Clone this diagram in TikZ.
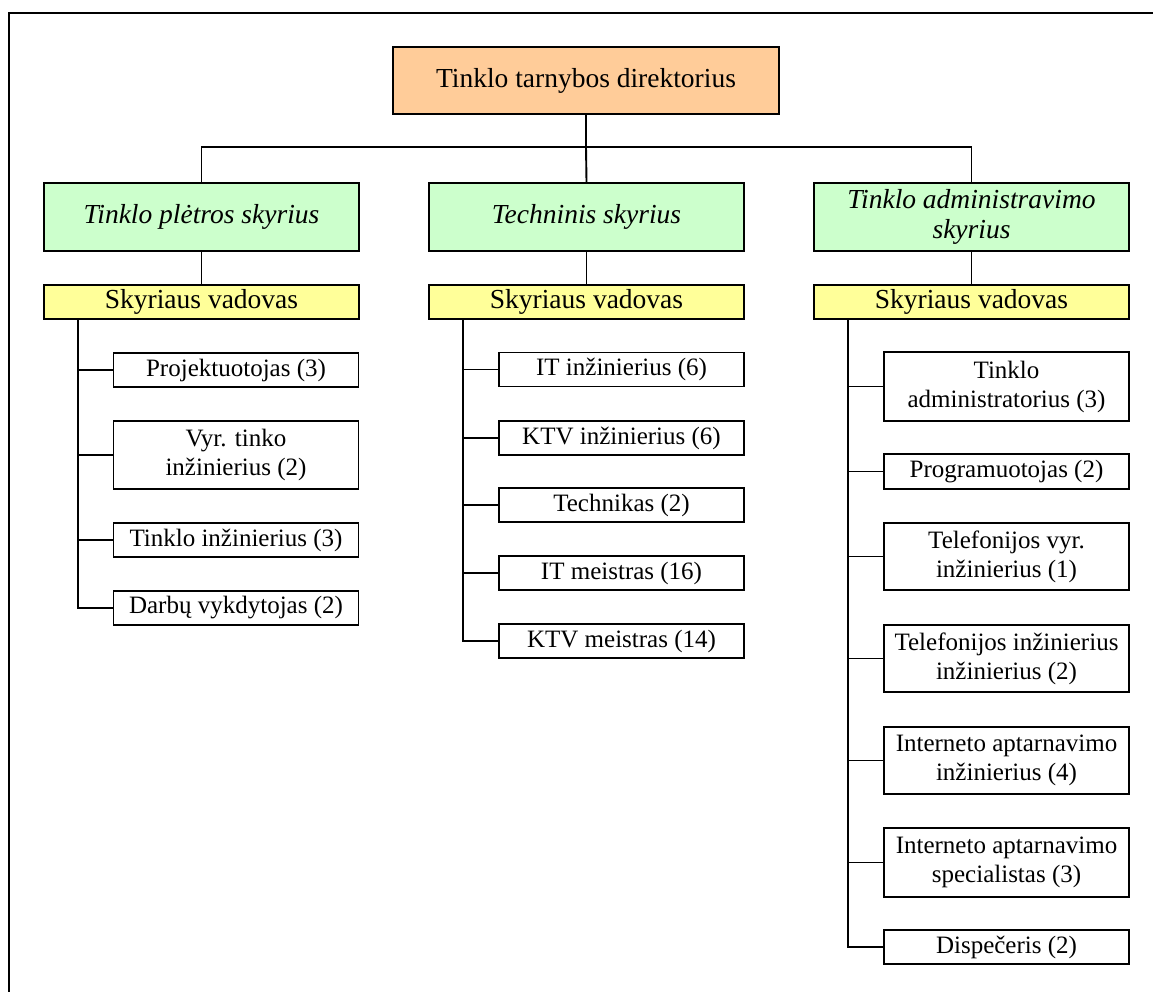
\documentclass[tikz,border=0pt]{standalone}
\usepackage{fontspec}
\setmainfont{Liberation Serif}
\usetikzlibrary{positioning}
\definecolor{dirfill}{HTML}{FFCC99}
\definecolor{deptfill}{HTML}{CCFFCC}
\definecolor{headfill}{HTML}{FFFF99}
\begin{document}
\begin{tikzpicture}[x=1pt,y=-1pt,
  box/.style={draw=black, line width=1.9pt, inner sep=0pt, align=center},
  dirbox/.style={box, fill=dirfill, minimum width=386pt, minimum height=67pt,
    font=\fontsize{27.5}{30}\selectfont},
  deptbox/.style={box, fill=deptfill, minimum width=315pt, minimum height=68pt,
    font=\fontsize{27.5}{30}\selectfont\itshape},
  headbox/.style={box, fill=headfill, minimum width=315pt, minimum height=34pt,
    font=\fontsize{27.5}{30}\selectfont},
  staff/.style={box, fill=white, minimum width=245pt,
    font=\fontsize{25}{29}\selectfont},
  link/.style={line width=1.9pt},
  frameline/.style={line width=2.4pt}
]
\useasboundingbox (0,0) rectangle (1153,992);
\fill[white] (0,0) rectangle (1153,992);
\draw[frameline] (9,992) -- (9,13) -- (1153,13);

% director
\node[dirbox] (dir) at (586,80.5) {Tinklo tarnybos direktorius};

% departments
\node[deptbox] (d1) at (201.5,217) {Tinklo plėtros skyrius};
\node[deptbox] (d2) at (586.5,217) {Techninis skyrius};
\node[deptbox] (d3) at (971.5,217) {Tinklo administravimo\\skyrius};

% department heads
\node[headbox] (h1) at (201.5,302) {Skyriaus vadovas};
\node[headbox] (h2) at (586.5,302) {Skyriaus vadovas};
\node[headbox] (h3) at (971.5,302) {Skyriaus vadovas};

% staff of the development department
\node[staff, minimum height=34pt] (a1) at (236,370) {Projektuotojas (3)};
\node[staff, minimum height=68pt] (a2) at (236,455) {Vyr. tinko\\inžinierius (2)};
\node[staff, minimum height=34pt] (a3) at (236,540) {Tinklo inžinierius (3)};
\node[staff, minimum height=34pt] (a4) at (236,608) {Darbų vykdytojas (2)};

% staff of the technical department
\node[staff, minimum height=34pt] (b1) at (621.5,369.5) {IT inžinierius (6)};
\node[staff, minimum height=34pt] (b2) at (621.5,438) {KTV inžinierius (6)};
\node[staff, minimum height=34pt] (b3) at (621.5,505) {Technikas (2)};
\node[staff, minimum height=34pt] (b4) at (621.5,573) {IT meistras (16)};
\node[staff, minimum height=34pt] (b5) at (621.5,641) {KTV meistras (14)};

% staff of the administration department
\node[staff, minimum height=69pt] (c1) at (1006.5,386.5) {Tinklo\\administratorius (3)};
\node[staff, minimum height=35pt] (c2) at (1006.5,471.5) {Programuotojas (2)};
\node[staff, minimum height=67pt] (c3) at (1006.5,556.5) {Telefonijos vyr.\\inžinierius (1)};
\node[staff, minimum height=67pt] (c4) at (1006.5,658.5) {Telefonijos inžinierius\\inžinierius (2)};
\node[staff, minimum height=67pt] (c5) at (1006.5,760.5) {Interneto aptarnavimo\\inžinierius (4)};
\node[staff, minimum height=69pt] (c6) at (1006.5,862.5) {Interneto aptarnavimo\\specialistas (3)};
\node[staff, minimum height=34pt] (c7) at (1006.5,947) {Dispečeris (2)};

% top-level connectors
\coordinate (bus) at (586,147);
\draw[link] (dir.south) -- (bus);
\draw[link] (d1.north) |- (bus) -| (d3.north);
\draw[link] (bus) -- (d2.north);
\draw[link] (d1.south) -- (h1.north);
\draw[link] (d2.south) -- (h2.north);
\draw[link] (d3.south) -- (h3.north);

% spines under each head
\coordinate (s1) at ([xshift=35pt]h1.south west);
\coordinate (s2) at ([xshift=35pt]h2.south west);
\coordinate (s3) at ([xshift=35pt]h3.south west);
\draw[link] (s1) |- (a4.west);
\draw[link] (s2) |- (b5.west);
\draw[link] (s3) |- (c7.west);
\foreach \n in {a1,a2,a3} \draw[link] (\n.west) -- (\n.west -| s1);
\foreach \n in {b1,b2,b3,b4} \draw[link] (\n.west) -- (\n.west -| s2);
\foreach \n in {c1,c2,c3,c4,c5,c6} \draw[link] (\n.west) -- (\n.west -| s3);
\end{tikzpicture}
\end{document}
